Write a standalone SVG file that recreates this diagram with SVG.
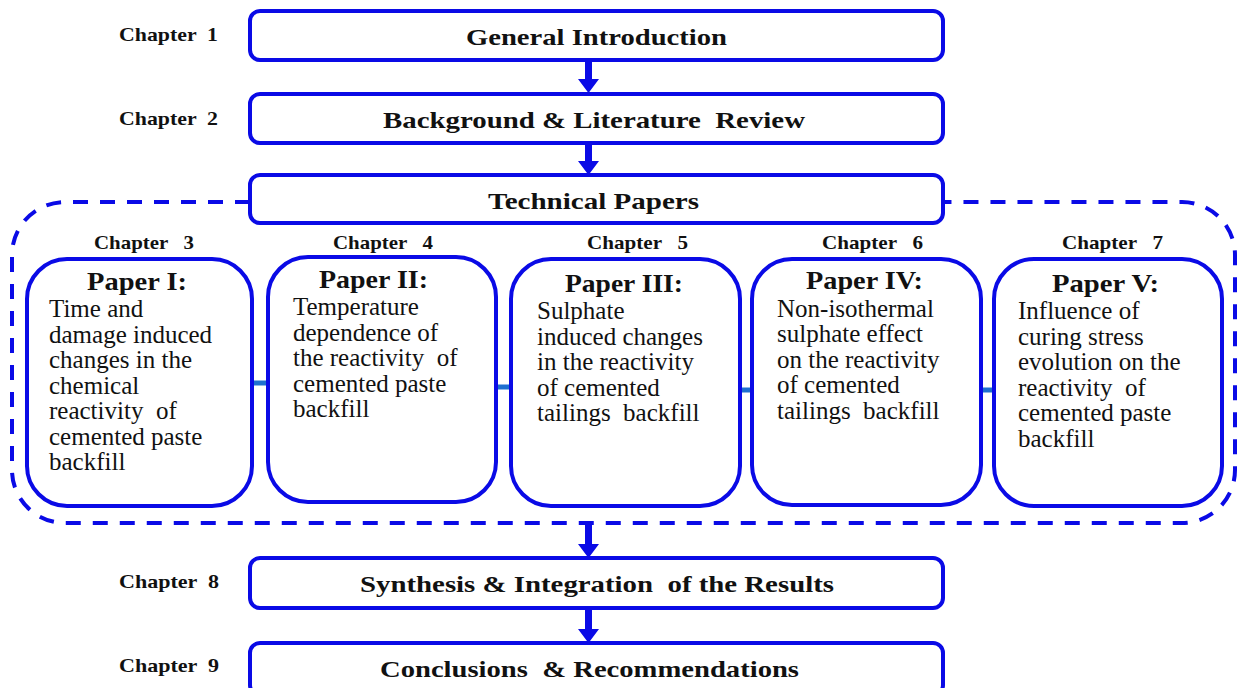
<svg xmlns="http://www.w3.org/2000/svg" width="1239" height="688" viewBox="0 0 1239 688">
  <style>
    .box { fill: #ffffff; stroke: #0a0ae6; stroke-width: 4; }
    .paper { fill: #ffffff; stroke: #0a0ae6; stroke-width: 4; }
    .title { font-family: "Liberation Serif", "Times New Roman", serif; font-weight: bold; font-size: 24px; fill: #111; white-space: pre; }
    .chap { font-family: "Liberation Serif", "Times New Roman", serif; font-weight: bold; font-size: 19px; fill: #111; white-space: pre; }
    .ptitle { font-family: "Liberation Serif", "Times New Roman", serif; font-weight: bold; font-size: 26px; fill: #111; }
    .body { font-family: "Liberation Serif", "Times New Roman", serif; font-size: 25px; fill: #111; }
    .pre { white-space: pre; }
    .arrow { fill: #0a0ae6; }
    .link { stroke: #1e6fd0; stroke-width: 5; }
    .group { fill: none; stroke: #0a0ae6; stroke-width: 4; stroke-dasharray: 15 12; }
  </style>
  <rect width="1239" height="688" fill="#ffffff"/>

  <!-- dashed enclosure around the technical papers -->
  <path class="group" d="M250,202 H65 A53,53 0 0 0 12,255 V470 A53,53 0 0 0 65,523 H1182 A53,53 0 0 0 1235,470 V255 A53,53 0 0 0 1182,202 H943"/>

  <!-- connectors -->
  <g id="connectors">
    <path class="arrow" d="M585,61 H592 V79 H599 L588.5,93 L578,79 H585 Z"/>
    <path class="arrow" d="M585,144 H592 V161 H599 L588.5,175 L578,161 H585 Z"/>
    <path class="arrow" d="M585,525 H592 V544 H599 L588.5,558 L578,544 H585 Z"/>
    <path class="arrow" d="M585,609 H592 V629 H599 L588.5,643 L578,629 H585 Z"/>
    <line class="link" x1="252" y1="383" x2="268" y2="383"/>
    <line class="link" x1="496" y1="387" x2="511" y2="387"/>
    <line class="link" x1="740" y1="390" x2="752" y2="390"/>
    <line class="link" x1="981" y1="390" x2="994" y2="390"/>
  </g>

  <!-- chapter labels -->
  <g id="chapter-labels">
    <text class="chap" x="119" y="41" textLength="99" lengthAdjust="spacingAndGlyphs">Chapter  1</text>
    <text class="chap" x="119" y="125" textLength="99" lengthAdjust="spacingAndGlyphs">Chapter  2</text>
    <text class="chap" x="94" y="249" textLength="100" lengthAdjust="spacingAndGlyphs">Chapter   3</text>
    <text class="chap" x="333" y="249" textLength="100" lengthAdjust="spacingAndGlyphs">Chapter   4</text>
    <text class="chap" x="587" y="249" textLength="101" lengthAdjust="spacingAndGlyphs">Chapter   5</text>
    <text class="chap" x="822" y="249" textLength="101" lengthAdjust="spacingAndGlyphs">Chapter   6</text>
    <text class="chap" x="1062" y="249" textLength="101" lengthAdjust="spacingAndGlyphs">Chapter   7</text>
    <text class="chap" x="119" y="588" textLength="100" lengthAdjust="spacingAndGlyphs">Chapter  8</text>
    <text class="chap" x="119" y="672" textLength="100" lengthAdjust="spacingAndGlyphs">Chapter  9</text>
  </g>

  <g id="general-introduction">
    <rect class="box" x="250" y="11" width="693" height="49" rx="10"/>
    <text class="title" x="466" y="45" textLength="261" lengthAdjust="spacingAndGlyphs">General Introduction</text>
  </g>

  <g id="background-review">
    <rect class="box" x="250" y="94" width="693" height="49" rx="10"/>
    <text class="title" x="383" y="128" textLength="422" lengthAdjust="spacingAndGlyphs">Background &amp; Literature  Review</text>
  </g>

  <g id="technical-papers">
    <rect class="box" x="250" y="175" width="693" height="48" rx="10"/>
    <text class="title" x="488" y="209" textLength="211" lengthAdjust="spacingAndGlyphs">Technical Papers</text>
  </g>

  <g id="paper-1">
    <rect class="paper" x="27" y="259" width="225" height="247" rx="40"/>
    <text class="ptitle" x="87" y="290" textLength="100" lengthAdjust="spacingAndGlyphs">Paper I:</text>
    <text class="body">
      <tspan x="49" y="317">Time and</tspan>
      <tspan x="49" y="342.5">damage induced</tspan>
      <tspan x="49" y="368">changes in the</tspan>
      <tspan x="49" y="393.5">chemical</tspan>
      <tspan class="pre" x="49" y="419">reactivity  of</tspan>
      <tspan x="49" y="444.5">cemented paste</tspan>
      <tspan x="49" y="470">backfill</tspan>
    </text>
  </g>

  <g id="paper-2">
    <rect class="paper" x="268" y="257" width="228" height="245" rx="40"/>
    <text class="ptitle" x="319" y="288" textLength="109" lengthAdjust="spacingAndGlyphs">Paper II:</text>
    <text class="body">
      <tspan x="293" y="315">Temperature</tspan>
      <tspan x="293" y="340.5">dependence of</tspan>
      <tspan class="pre" x="293" y="366">the reactivity  of</tspan>
      <tspan x="293" y="391.5">cemented paste</tspan>
      <tspan x="293" y="417">backfill</tspan>
    </text>
  </g>

  <g id="paper-3">
    <rect class="paper" x="511" y="259" width="229" height="247" rx="40"/>
    <text class="ptitle" x="565" y="292" textLength="118" lengthAdjust="spacingAndGlyphs">Paper III:</text>
    <text class="body">
      <tspan x="537" y="319">Sulphate</tspan>
      <tspan x="537" y="344.5">induced changes</tspan>
      <tspan x="537" y="370">in the reactivity</tspan>
      <tspan x="537" y="395.5">of cemented</tspan>
      <tspan class="pre" x="537" y="421">tailings  backfill</tspan>
    </text>
  </g>

  <g id="paper-4">
    <rect class="paper" x="752" y="259" width="229" height="246" rx="40"/>
    <text class="ptitle" x="806" y="289" textLength="117" lengthAdjust="spacingAndGlyphs">Paper IV:</text>
    <text class="body">
      <tspan x="777" y="316.5">Non-isothermal</tspan>
      <tspan x="777" y="342">sulphate effect</tspan>
      <tspan x="777" y="367.5">on the reactivity</tspan>
      <tspan x="777" y="393">of cemented</tspan>
      <tspan class="pre" x="777" y="418.5">tailings  backfill</tspan>
    </text>
  </g>

  <g id="paper-5">
    <rect class="paper" x="994" y="259" width="228" height="247" rx="40"/>
    <text class="ptitle" x="1052" y="292" textLength="107" lengthAdjust="spacingAndGlyphs">Paper V:</text>
    <text class="body">
      <tspan x="1018" y="319">Influence of</tspan>
      <tspan x="1018" y="344.5">curing stress</tspan>
      <tspan x="1018" y="370">evolution on the</tspan>
      <tspan class="pre" x="1018" y="395.5">reactivity  of</tspan>
      <tspan x="1018" y="421">cemented paste</tspan>
      <tspan x="1018" y="446.5">backfill</tspan>
    </text>
  </g>

  <g id="synthesis">
    <rect class="box" x="250" y="558" width="693" height="50" rx="10"/>
    <text class="title" x="360" y="592" textLength="474" lengthAdjust="spacingAndGlyphs">Synthesis &amp; Integration  of the Results</text>
  </g>

  <g id="conclusions">
    <rect class="box" x="250" y="643" width="693" height="52" rx="10"/>
    <text class="title" x="380" y="677" textLength="419" lengthAdjust="spacingAndGlyphs">Conclusions  &amp; Recommendations</text>
  </g>
</svg>
